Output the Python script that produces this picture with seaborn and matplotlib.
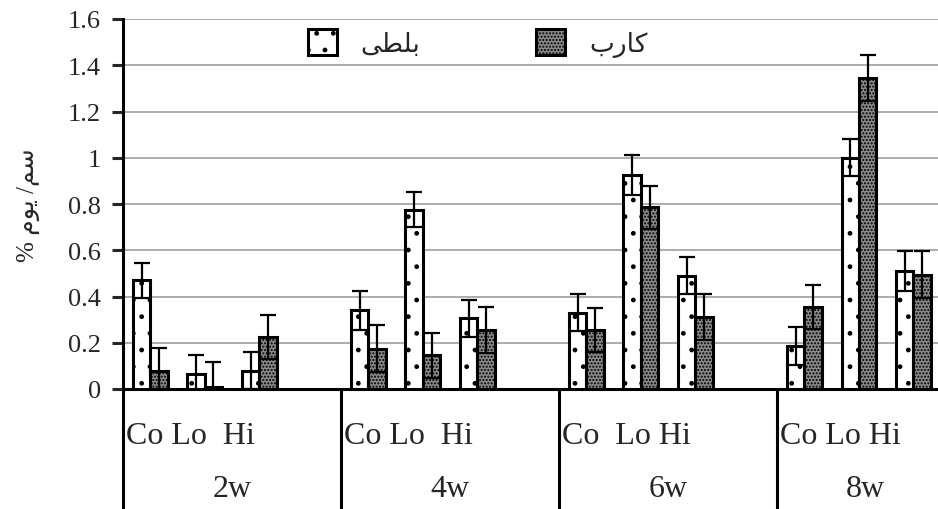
import matplotlib
matplotlib.use("Agg")
import matplotlib.pyplot as plt
import matplotlib.transforms as mtransforms
from matplotlib.patches import Patch
import numpy as np
import pandas as pd
import seaborn as sns

# Arabic text is written in presentation forms, in visual (left-to-right) order,
# because matplotlib does no shaping or bidi.
BOLTI = "\uFEF0\uFEC4\uFEE0\uFE91"      # بلطى
CARP = "\uFE8F\uFEAD\uFE8E\uFEDB"       # كارب
YLABEL = "% \uFEE1\uFEEE\uFEF3 /\uFEE2\uFEB3"  # سم/ يوم %

weeks = ["2w", "4w", "6w", "8w"]
treatments = ["Co", "Lo", "Hi"]
tick_texts = ["Co Lo  Hi", "Co Lo  Hi", "Co  Lo Hi", "Co Lo Hi"]

bolti_vals = [0.47, 0.065, 0.08, 0.34, 0.775, 0.305, 0.33, 0.925, 0.49, 0.185, 1.0, 0.51]
bolti_err = [0.075, 0.08, 0.08, 0.085, 0.075, 0.08, 0.08, 0.085, 0.08, 0.082, 0.08, 0.085]
carp_vals = [0.08, 0.01, 0.225, 0.175, 0.145, 0.255, 0.255, 0.785, 0.31, 0.355, 1.345, 0.495]
carp_err = [0.097, 0.105, 0.097, 0.1, 0.097, 0.1, 0.097, 0.095, 0.1, 0.095, 0.1, 0.1]

# category slots: three treatments plus an empty gap per week
order = []
for w in weeks:
    order += [w + "-" + t for t in treatments] + [w + "-gap"]

slots = [w + "-" + t for w in weeks for t in treatments]
df = pd.DataFrame({
    "slot": slots * 2,
    "species": ["bolti"] * len(slots) + ["carp"] * len(slots),
    "value": bolti_vals + carp_vals,
    "err": bolti_err + carp_err,
})

sns.set_style("white")
plt.rcParams["font.family"] = ["Liberation Serif", "DejaVu Sans"]
plt.rcParams["hatch.linewidth"] = 1.0

fig = plt.figure(figsize=(9.38, 5.10), dpi=100)
ax = fig.add_axes([123 / 938, 120 / 510, 815 / 938, 370 / 510])

sns.barplot(data=df, x="slot", y="value", hue="species", order=order,
            hue_order=["bolti", "carp"], width=0.64, errorbar=None,
            legend=False, ax=ax, zorder=3)

styles = {
    "bolti": dict(facecolor="white", hatch="."),
    "carp": dict(facecolor="#8a8a8a", hatch="....."),
}
for cont, sp in zip(ax.containers, ["bolti", "carp"]):
    sub = df[df.species == sp].set_index("slot")
    for bar in cont:
        bar.set_facecolor(styles[sp]["facecolor"])
        bar.set_hatch(styles[sp]["hatch"])
        bar.set_edgecolor("black")
        bar.set_linewidth(2.2)
        xc = bar.get_x() + bar.get_width() / 2
        slot = order[int(round(xc))]
        ax.errorbar(xc, bar.get_height(), yerr=sub.loc[slot, "err"], fmt="none",
                    ecolor="black", elinewidth=1.6, capsize=5.5, capthick=1.6,
                    zorder=4)

xmax = 14.45
ax.set_xlim(-0.5, xmax)
ax.set_ylim(0, 1.6)
ax.set_yticks(np.arange(0, 1.61, 0.2))
ax.set_yticklabels(["0", "0.2", "0.4", "0.6", "0.8", "1", "1.2", "1.4", "1.6"],
                   fontsize=19)
ax.tick_params(axis="y", direction="out", length=8, width=2.2, pad=8, left=True)
ax.set_xticks([])
ax.set_xlabel("")
ax.set_ylabel(YLABEL, fontsize=18)
ax.yaxis.set_label_coords(-0.102, 0.5)

ax.grid(axis="y", color="#a6a6a6", linewidth=1.3, zorder=0)
ax.set_axisbelow(True)
for s in ["top", "right"]:
    ax.spines[s].set_visible(False)
for s in ["left", "bottom"]:
    ax.spines[s].set_color("black")
    ax.spines[s].set_linewidth(2.2)

# category table below the axis
trans = mtransforms.blended_transform_factory(ax.transData, ax.transAxes)
for g, w in enumerate(weeks):
    x0 = order.index(w + "-Co") - 0.5
    x1 = min(x0 + 4, xmax + 0.3)
    ax.plot([x0, x0], [0, -0.33], transform=trans, color="black", lw=2.2,
            clip_on=False, solid_capstyle="butt")
    ax.text(x0 + 0.06, -0.127, tick_texts[g], transform=trans, fontsize=23,
            ha="left", va="center")
    ax.text((x0 + x1) / 2, -0.27, w, transform=trans, fontsize=23,
            ha="center", va="center")

handles = [
    Patch(facecolor="white", edgecolor="black", hatch=".", linewidth=2.2),
    Patch(facecolor="#8a8a8a", edgecolor="black", hatch=".....", linewidth=2.2),
]
ax.legend(handles, [BOLTI, CARP], ncol=2, frameon=False, loc="center",
          bbox_to_anchor=(0.435, 0.935), fontsize=19, handlelength=1.1,
          handleheight=1.1, columnspacing=4.4, handletextpad=0.9)

fig.savefig("out.png", dpi=100)
